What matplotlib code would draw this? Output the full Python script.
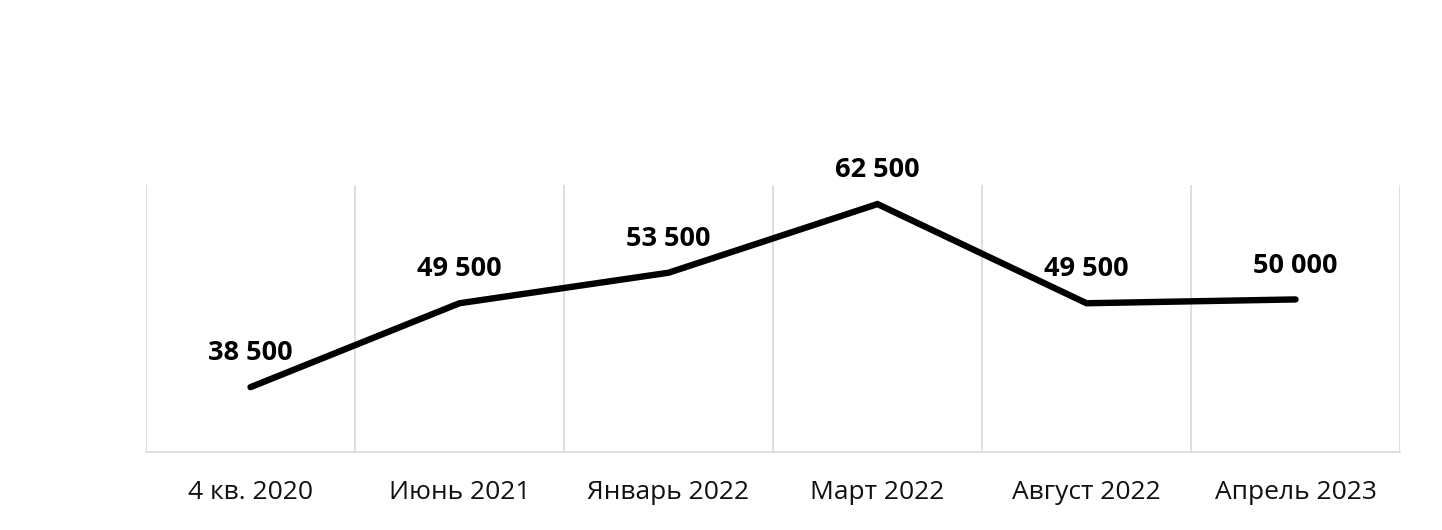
import matplotlib
matplotlib.use("Agg")
import matplotlib.pyplot as plt
from matplotlib.ticker import FixedLocator

categories = ["4 кв. 2020", "Июнь 2021", "Январь 2022", "Март 2022", "Август 2022", "Апрель 2023"]
values = [38500, 49500, 53500, 62500, 49500, 50000]
labels = ["38 500", "49 500", "53 500", "62 500", "49 500", "50 000"]

plt.rcParams['font.family'] = ['Open Sans', 'DejaVu Sans']

fig = plt.figure(figsize=(14.42, 5.30), dpi=100)
ax = fig.add_axes([146/1442, 1-452/530, (1400-146)/1442, (452-185)/530])

x = list(range(len(categories)))
ax.plot(x, values, color='black', linewidth=4.6, solid_capstyle='round', solid_joinstyle='miter', zorder=3)

for xi, v, lab in zip(x, values, labels):
    ax.annotate(lab, (xi, v), xytext=(0, 15), textcoords='offset points',
                ha='center', va='bottom', fontsize=19.5, fontweight='bold', color='black')

ax.set_xlim(-0.5, len(categories) - 0.5)
ax.set_ylim(30000, 65000)
ax.set_xticks(x)
ax.set_xticklabels(categories, fontsize=19, color='#111111')
ax.xaxis.set_minor_locator(FixedLocator([i - 0.5 for i in range(len(categories) + 1)]))
ax.grid(which='minor', axis='x', color='#d9d9d9', linewidth=1.2)
ax.tick_params(axis='x', which='both', length=0, pad=20)
ax.set_yticks([])
for s in ['top', 'left', 'right']:
    ax.spines[s].set_visible(False)
ax.spines['bottom'].set_color('#d9d9d9')
ax.spines['bottom'].set_linewidth(1.2)

fig.savefig("out.png", dpi=100, facecolor='white')
